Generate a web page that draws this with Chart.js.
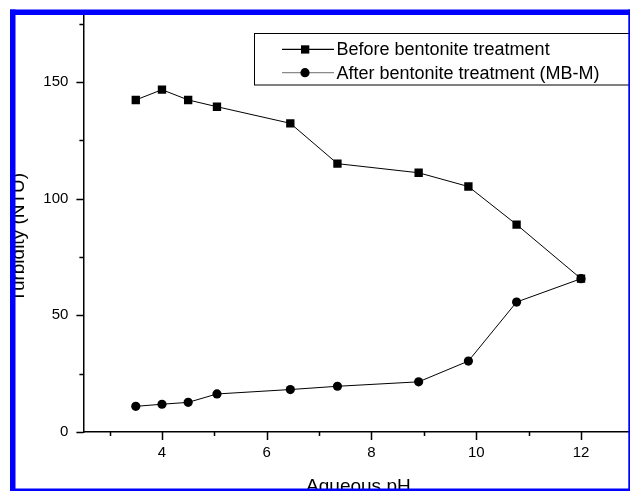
<!DOCTYPE html>
<html>
<head>
<meta charset="utf-8">
<script src="https://cdn.jsdelivr.net/npm/chart.js@4.4.1/dist/chart.umd.min.js"></script>
<style>
  html, body { margin: 0; padding: 0; background: #fff; overflow: hidden; width: 630px; height: 491px; }
  #wrap { position: relative; width: 630px; height: 491px; overflow: hidden; }
  #turbidityChart { position: absolute; left: 0; top: 0; }
</style>
</head>
<body>
<div id="wrap"><canvas id="turbidityChart" width="640" height="500"></canvas></div>
<script>
// pH values and turbidity readings (NTU)
const phValues = [3.5, 4.0, 4.5, 5.05, 6.45, 7.35, 8.9, 9.85, 10.77, 12.0];
const turbidityBefore = [142.3, 146.7, 142.3, 139.4, 132.3, 115.0, 111.1, 105.2, 88.9, 65.7];
const turbidityAfter = [11.0, 11.9, 12.7, 16.3, 18.2, 19.6, 21.5, 30.4, 55.7, 65.7];

const seriesLabels = ["Before bentonite treatment", "After bentonite treatment (MB-M)"];
const xTitle = "Aqueous pH";
const yTitle = "Turbidity (NTU)";

function toPoints(ys) {
  return phValues.map((x, i) => ({ x: x, y: ys[i] }));
}

// short/long tick marks drawn outward from both axes
const tickMarks = {
  id: "tickMarks",
  afterDraw(chart) {
    const ctx = chart.ctx;
    const xs = chart.scales.x;
    const ys = chart.scales.y;
    const area = chart.chartArea;
    ctx.save();
    ctx.strokeStyle = "#000";
    ctx.lineWidth = 1.5;
    ctx.beginPath();
    for (let v = 3; v <= 13; v++) {
      const px = Math.round(xs.getPixelForValue(v)) + 0.5;
      const len = v % 2 === 0 ? 8 : 4;
      ctx.moveTo(px, area.bottom);
      ctx.lineTo(px, area.bottom + len);
    }
    for (let v = 0; v <= 175; v += 25) {
      const py = Math.round(ys.getPixelForValue(v)) + 0.5;
      const len = v % 50 === 0 ? 7 : 4;
      ctx.moveTo(area.left, py);
      ctx.lineTo(area.left - len, py);
    }
    ctx.stroke();
    ctx.restore();
  }
};

// axis titles, legend box and the blue frame round the figure
const decorations = {
  id: "decorations",
  afterDraw(chart) {
    const ctx = chart.ctx;
    const area = chart.chartArea;
    ctx.save();
    ctx.fillStyle = "#000";
    ctx.font = "19px 'Liberation Sans', Arial, sans-serif";

    ctx.textAlign = "center";
    ctx.textBaseline = "alphabetic";
    ctx.fillText(xTitle, (area.left + area.right) / 2, 491.5);

    ctx.save();
    ctx.translate(24, 302);
    ctx.rotate(-Math.PI / 2);
    ctx.textAlign = "left";
    ctx.fillText(yTitle, 0, 0);
    ctx.restore();

    // legend
    ctx.strokeStyle = "#000";
    ctx.lineWidth = 1;
    ctx.strokeRect(254.5, 33.5, 400, 51.5);
    const rows = [49.3, 72.7];
    const lineCols = ["#000", "#8a8a8a"];
    ctx.font = "18px 'Liberation Sans', Arial, sans-serif";
    ctx.textAlign = "left";
    ctx.textBaseline = "middle";
    rows.forEach((ry, i) => {
      ctx.strokeStyle = lineCols[i];
      ctx.lineWidth = 1.2;
      ctx.beginPath();
      ctx.moveTo(282, ry);
      ctx.lineTo(334, ry);
      ctx.stroke();
      ctx.fillStyle = "#000";
      ctx.beginPath();
      if (i === 0) {
        ctx.rect(301, ry - 4, 8.3, 8.3);
      } else {
        ctx.arc(305, ry, 4.6, 0, Math.PI * 2);
      }
      ctx.fill();
      ctx.fillText(seriesLabels[i], 336.5, ry + 1);
    });

    // frame
    ctx.fillStyle = "#0000ff";
    ctx.fillRect(10, 9.5, 630, 5.5);
    ctx.fillRect(10, 9.5, 5.5, 490);
    ctx.fillRect(628.3, 9.5, 12, 490);
    ctx.fillRect(10, 488.5, 630, 12);
    ctx.restore();
  }
};

new Chart(document.getElementById("turbidityChart"), {
  type: "line",
  data: {
    datasets: [
      {
        label: seriesLabels[0],
        data: toPoints(turbidityBefore),
        borderColor: "#000",
        backgroundColor: "#000",
        borderWidth: 1,
        pointStyle: "rect",
        pointRadius: 5.9,
        pointBorderWidth: 0,
        tension: 0
      },
      {
        label: seriesLabels[1],
        data: toPoints(turbidityAfter),
        borderColor: "#000",
        backgroundColor: "#000",
        borderWidth: 1,
        pointStyle: "circle",
        pointRadius: 4.6,
        pointBorderWidth: 0,
        tension: 0
      }
    ]
  },
  options: {
    responsive: false,
    devicePixelRatio: 1,
    animation: false,
    layout: { padding: { left: 0, top: 12, right: 6.6, bottom: 0 } },
    plugins: {
      legend: { display: false },
      tooltip: { enabled: false }
    },
    scales: {
      x: {
        type: "linear",
        min: 2.5,
        max: 13,
        afterFit: (scale) => {
          scale.height = 68;
          scale.paddingLeft = 0;
          scale.paddingRight = 0;
        },
        afterBuildTicks: (scale) => {
          scale.ticks = [4, 6, 8, 10, 12].map(v => ({ value: v }));
        },
        grid: { display: false, drawTicks: false },
        border: { display: true, color: "#000", width: 1.5 },
        ticks: {
          padding: 12,
          color: "#000",
          font: { family: "'Liberation Sans', Arial, sans-serif", size: 15 },
          maxRotation: 0
        }
      },
      y: {
        type: "linear",
        min: 0,
        max: 180,
        afterFit: (scale) => {
          scale.width = 83.4;
          scale.paddingTop = 0;
          scale.paddingBottom = 0;
        },
        afterBuildTicks: (scale) => {
          scale.ticks = [0, 50, 100, 150].map(v => ({ value: v }));
        },
        grid: { display: false, drawTicks: false },
        border: { display: true, color: "#000", width: 1.5 },
        ticks: {
          padding: 15,
          color: "#000",
          font: { family: "'Liberation Sans', Arial, sans-serif", size: 15 }
        }
      }
    }
  },
  plugins: [tickMarks, decorations]
});
</script>
</body>
</html>
